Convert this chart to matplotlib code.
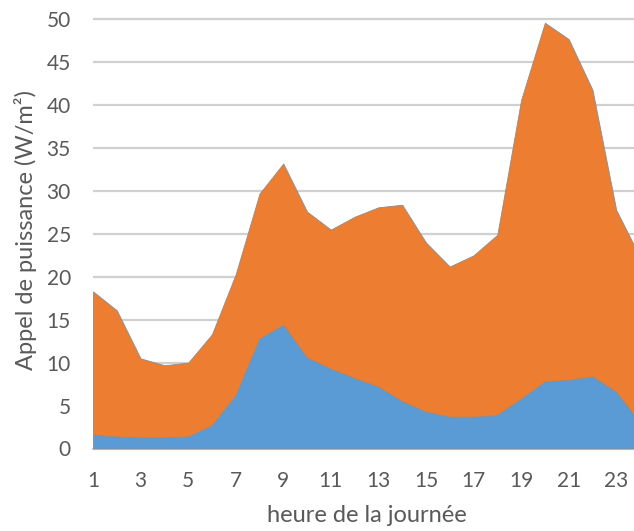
import matplotlib.pyplot as plt

hours = list(range(1, 25))
# blue band (lower series) and total (top of orange band), W/m2
base = [1.6, 1.4, 1.3, 1.3, 1.4, 2.7, 6.2, 12.8, 14.4, 10.6, 9.3, 8.2,
        7.2, 5.5, 4.3, 3.7, 3.7, 3.9, 5.8, 7.8, 8.0, 8.4, 6.6, 3.0]
total = [18.3, 16.1, 10.5, 9.7, 10.0, 13.3, 20.3, 29.7, 33.2, 27.6, 25.5, 27.0,
         28.1, 28.4, 24.0, 21.2, 22.5, 24.9, 40.6, 49.6, 47.7, 41.8, 27.8, 22.3]
top = [t - b for t, b in zip(total, base)]

xticks = list(range(1, 24, 2))
yticks = list(range(0, 51, 5))

plt.rcParams['font.family'] = ['Lato', 'DejaVu Sans']
txt = '#595959'

fig = plt.figure(figsize=(6.34, 5.31), dpi=100)
W, H = 634, 531
ppu = (448.5 - 19.3) / 50
axw = 640 - 93
axh = 51 * ppu
ax = fig.add_axes([93 / W, (H - 448.5) / H, axw / W, axh / H])

ax.stackplot(hours, base, top, colors=['#5B9BD5', '#ED7D31'],
             edgecolor='#8c8c8c', linewidth=0.6, zorder=3)

ax.set_xlim(1, 24)
ax.set_ylim(0, 51)
ax.set_xticks(xticks)
ax.set_yticks(yticks)
ax.grid(axis='y', color='#D0D0D0', linewidth=1.6, zorder=1)
ax.tick_params(length=0, labelsize=15, colors=txt, pad=16)
ax.tick_params(axis='x', pad=16)
for s in ['top', 'right', 'left']:
    ax.spines[s].set_visible(False)
ax.spines['bottom'].set_color('#D0D0D0')
ax.spines['bottom'].set_linewidth(1.6)

ax.set_ylabel('Appel de puissance (W/m²)', fontsize=17, color=txt)
ax.yaxis.set_label_coords(-(93 - 37) / axw, 0.5)
ax.set_xlabel('heure de la journée', fontsize=17, color=txt)
ax.xaxis.set_label_coords(0.5, -(505 - 448.5) / axh)

fig.savefig('out.png', dpi=100)
